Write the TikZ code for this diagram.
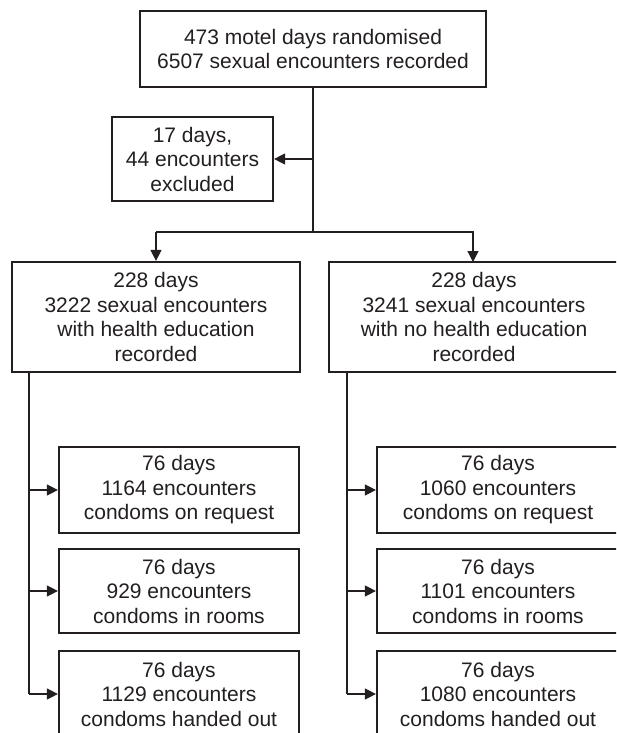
\documentclass[tikz,border=0pt]{standalone}
\usepackage{fontspec}
\setmainfont{Liberation Sans}
\usetikzlibrary{arrows.meta}
\definecolor{ink}{HTML}{231F20}
\tikzset{
  box/.style={draw=ink, line width=2.2pt, align=center, inner sep=0pt, text=ink,
    font=\fontsize{21}{24.5}\selectfont},
  conn/.style={draw=ink, line width=1.2pt},
  arr/.style={conn, -{Triangle[length=11pt,width=11pt]}},
}
\begin{document}
\begin{tikzpicture}[x=1pt,y=-1pt]
\useasboundingbox (0,0) rectangle (616,733);
\fill[white] (0,0) rectangle (616,733);
\clip (0,0) rectangle (616,733);
\node[box, minimum width=346pt, minimum height=76pt] (top) at (313,49)
  {473 motel days randomised\\6507 sexual encounters recorded};
\node[box, minimum width=161pt, minimum height=84pt] (ex) at (192.5,159)
  {17 days,\\44 encounters\\excluded};
\node[box, minimum width=288pt, minimum height=110pt] (L) at (156,317)
  {228 days\\3222 sexual encounters\\with health education\\recorded};
\node[box, minimum width=290pt, minimum height=110pt] (R) at (474,317)
  {228 days\\3241 sexual encounters\\with no health education\\recorded};
\node[box, minimum width=240pt, minimum height=86pt] (L1) at (179,490)
  {76 days\\1164 encounters\\condoms on request};
\node[box, minimum width=240pt, minimum height=84pt] (L2) at (179,591)
  {76 days\\929 encounters\\condoms in rooms};
\node[box, minimum width=240pt, minimum height=86pt] (L3) at (179,694)
  {76 days\\1129 encounters\\condoms handed out};
\node[box, minimum width=242pt, minimum height=86pt] (R1) at (498,490)
  {76 days\\1060 encounters\\condoms on request};
\node[box, minimum width=242pt, minimum height=84pt] (R2) at (498,591)
  {76 days\\1101 encounters\\condoms in rooms};
\node[box, minimum width=242pt, minimum height=86pt] (R3) at (498,694)
  {76 days\\1080 encounters\\condoms handed out};
% split
\coordinate (sp) at (313,232);
\draw[conn] (top.south) -- (sp);
\draw[arr] (top.south |- ex.east) -- (ex.east);
\draw[conn] (L.north |- sp) -- (R.north |- sp);
\draw[arr] (L.north |- sp) -- (L.north);
\draw[arr] (473,232) -- (473,262);
% left trunk
\coordinate (lt) at (29,372);
\draw[conn] (lt) -- (lt |- L3.west);
\draw[arr] (lt |- L1.west) -- (L1.west);
\draw[arr] (lt |- L2.west) -- (L2.west);
\draw[arr] (lt |- L3.west) -- (L3.west);
% right trunk
\coordinate (rt) at (347,372);
\draw[conn] (rt) -- (rt |- R3.west);
\draw[arr] (rt |- R1.west) -- (R1.west);
\draw[arr] (rt |- R2.west) -- (R2.west);
\draw[arr] (rt |- R3.west) -- (R3.west);
\end{tikzpicture}
\end{document}
